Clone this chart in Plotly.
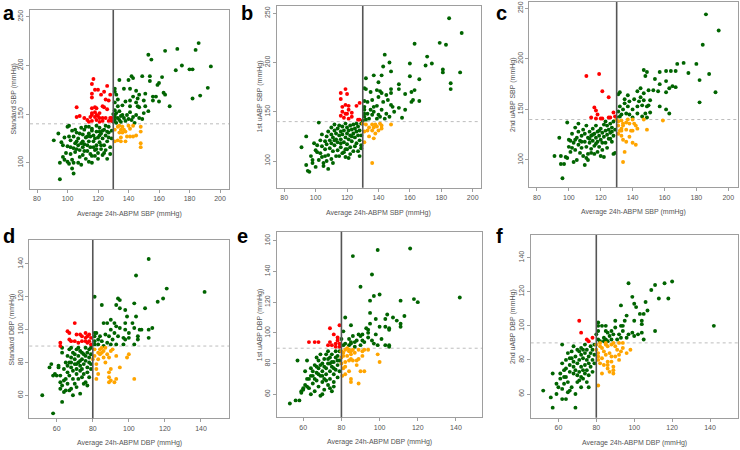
import plotly.graph_objects as go

# ---------------- DATA ----------------
# Panel a: Standard SBP vs average 24h-ABPM SBP
A_GREEN = [(186,223),(184,216),(172,217),(164,215),(153,211),(155,206),(175,200),(171,195),(180,196),(182,196),
 (194,199),(192,177),(182,166),(187,169),(162,188),(160,182),(159,180),(163,172),(164,170),(158,168),(156,168),
 (160,163),(167,158),(154,189),(154,184),(149,189),(143,187),(142,189),(140,185),(134,185),(131,176),(131,173),
 (132,170),(137,176),(141,176),(145,174),(147,170),(146,166),(151,171),(156,164),(145,162),(150,164),(143,168),
 (141,164),(138,163),(136,159),(133,158),(141,158),(146,158),(147,157),(151,158),(153,153),(150,151),(145,149),
 (147,146),(143,147),(141,152),(139,149),(136,149),(134,153),(131,154),(131,149),(133,146),(137,146),(140,145),
 (135,142),(131,144),(131,147),(149,145),(132,141),(134,144),(138,143),(142,144),(144,141),(132,151),(135,148),
 (130,142),(130,150),(131,162),(133,165),
 (91,123),(94,130),(96,121),(95,100),(95,83),(97,106),(98,103),(99,110),(100,117),(100,137),(101,138),(101,127),
 (102,123),(102,116),(102,109),(101,99),(103,103),(103,94),(104,89),(104,100),(105,111),(105,120),(104,127),
 (105,134),(106,131),(107,125),(107,118),(108,113),(108,106),(107,100),(109,98),(110,108),(110,116),(110,122),
 (110,129),(111,134),(112,137),(112,126),(113,118),(113,112),(112,104),(114,130),(114,122),(115,116),(115,109),
 (116,100),(116,135),(117,128),(117,122),(118,113),(118,107),(119,132),(119,118),(120,126),(120,110),(120,104),
 (121,136),(121,121),(122,130),(122,114),(123,108),(123,125),(124,134),(124,118),(125,128),(125,113),(126,104),
 (126,122),(127,137),(127,131),(128,116),(128,109),(129,125),(129,133),(108,130),(109,136),(106,114),(111,119),
 (113,127),(115,127),(116,133),(118,125),(119,138),(121,128),(123,133),(125,138),(126,132),(127,126),(114,137),
 (103,133),(104,115),(106,122),(109,120),(111,112),(117,116),(122,118),(124,110),(100,101),(97,118),(98,126),
 (116,107),(114,101),(119,114),(121,132)]
A_RED = [(117,186),(126,179),(116,181),(118,175),(120,175),(116,171),(124,173),(122,170),(128,170),(116,167),
 (125,165),(127,164),(106,157),(123,158),(118,157),(116,156),(119,156),(124,157),(126,155),(108,148),(106,147),
 (115,147),(116,149),(118,147),(120,148),(121,146),(123,146),(125,146),(128,146),(129,146),(113,144),(119,144),
 (118,152),(116,151),(121,151),(119,149),(114,142),(116,143),(123,143),(127,143),(129,143),(121,142),(111,146)]
A_ORANGE = [(131,134),(133,137),(134,138),(136,137),(135,134),(137,134),(136,131),(138,132),(140,138),(141,135),
 (135,126),(139,127),(141,127),(143,127),(145,128),(131,122),(133,123),(135,122),(138,122),(148,137),(148,132),
 (148,120),(148,116),(143,138),(134,131)]

# Panel b: 1st uABP SBP
B_GREEN = [(185,245),(193,230),(163,219),(179,220),(183,218),(144,208),(147,200),(148,191),(160,199),(171,206),
 (174,199),(170,197),(160,186),(166,183),(181,193),(181,190),(192,190),(186,179),(186,173),(143,196),(140,180),
 (142,187),(137,187),(132,184),(131,174),(132,173),(135,170),(139,172),(141,171),(142,169),(145,167),(148,173),
 (148,169),(153,178),(153,173),(157,168),(161,170),(163,172),(162,162),(166,161),(157,152),(155,144),(146,162),
 (143,160),(140,165),(136,162),(133,160),(131,161),(137,155),(139,156),(142,152),(145,148),(147,145),(149,155),
 (150,150),(144,143),(140,147),(137,150),(135,152),(133,148),(131,145),(131,152),(134,143),(136,147),(139,143),
 (141,145),(131,155),(148,157),(153,154),(161,160),(130,141),(132,142),(131,148),
 (91,114),(94,125),(94,96),(95,90),(96,89),(98,101),(98,98),(100,94),(102,139),(101,116),(101,109),(103,108),
 (104,115),(104,104),(105,95),(105,98),(106,120),(106,112),(107,125),(107,117),(108,106),(108,130),(109,121),
 (109,113),(110,127),(110,134),(110,118),(111,110),(111,124),(112,131),(112,137),(112,116),(113,122),(113,128),
 (113,105),(114,133),(114,119),(114,111),(115,126),(115,136),(116,122),(116,130),(116,114),(117,127),(117,135),
 (117,108),(118,119),(118,131),(119,124),(119,138),(119,112),(120,128),(120,134),(120,117),(121,122),(121,131),
 (121,103),(122,136),(122,126),(122,114),(123,120),(123,132),(124,128),(124,137),(124,110),(125,124),(125,133),
 (126,118),(126,130),(126,138),(127,126),(127,135),(128,121),(128,131),(129,138),(129,116),(129,113),(129,126),
 (103,121),(104,127),(106,105),(107,100),(108,92),(110,102),(111,98),(112,121),(115,105),(116,118),(118,109),
 (119,104),(120,112),(122,107),(123,125),(125,115),(127,110),(128,105),(100,111),(102,101),(97,105),(99,118)]
B_RED = [(119,173),(116,169),(120,168),(116,163),(119,157),(121,156),(128,159),(126,156),(117,150),(120,148),
 (123,149),(116,146),(118,144),(121,143),(123,145),(127,142),(128,142),(119,148),(121,152),(117,155)]
B_ORANGE = [(130,138),(131,130),(132,137),(134,134),(136,137),(137,134),(138,137),(139,135),(141,138),(142,133),
 (140,131),(136,131),(134,125),(137,123),(131,119),(136,98),(148,137),(133,131),(138,128),(142,136)]

# Panel c: 2nd uABP SBP
C_GREEN = [(186,244),(194,228),(184,214),(172,196),(168,195),(180,195),(175,186),(188,185),(182,179),(182,157),
 (192,167),(147,189),(149,187),(148,183),(157,187),(161,188),(164,188),(167,188),(154,180),(157,175),(161,178),
 (163,171),(165,173),(167,172),(161,167),(156,168),(150,169),(153,169),(145,171),(143,168),(147,166),(137,164),
 (132,167),(131,165),(135,160),(141,160),(145,162),(147,159),(151,159),(144,158),(132,153),(134,150),(137,153),
 (140,150),(143,153),(146,154),(149,153),(151,147),(148,146),(143,146),(138,145),(136,146),(133,145),(146,143),
 (149,142),(157,153),(161,150),(163,146),(135,156),(131,148),(150,154),(138,158),(130,142),(132,143),(140,142),
 (91,104),(94,122),(95,104),(95,96),(96,82),(97,96),(98,103),(99,102),(99,137),(100,113),(100,120),(101,108),
 (102,126),(103,117),(103,98),(104,110),(104,132),(105,122),(105,100),(106,115),(106,128),(107,107),(107,119),
 (108,124),(108,112),(109,130),(109,104),(110,118),(110,126),(111,113),(111,134),(112,122),(112,106),(113,128),
 (113,117),(114,124),(114,111),(115,131),(115,119),(116,126),(116,114),(117,122),(117,134),(118,118),(118,128),
 (119,113),(119,124),(120,131),(120,120),(121,127),(121,110),(122,123),(122,135),(123,117),(123,129),(124,125),
 (124,134),(125,121),(125,130),(126,127),(126,136),(127,118),(127,132),(128,124),(128,138),(129,130),(129,107),
 (128,106),(120,104),(122,103),(112,100),(110,95),(116,106),(118,108),(113,121),(108,118),(106,136),(104,120),
 (102,112),(101,119),(115,125),(119,129),(121,117),(124,112),(126,121),(117,116),(114,107),(123,138),(127,128),
 (111,102)]
C_RED = [(111,183),(119,185),(121,168),(125,162),(116,152),(117,149),(118,145),(114,142),(117,141),(121,141),
 (125,142),(126,142),(128,147),(129,143),(120,141)]
C_ORANGE = [(130,140),(131,138),(133,139),(134,136),(131,134),(133,131),(134,134),(136,137),(137,140),(138,136),
 (140,140),(141,136),(142,134),(143,131),(140,129),(136,130),(131,126),(133,124),(134,120),(136,118),(138,123),
 (140,117),(142,115),(135,108),(134,98),(147,140),(149,130),(159,139),(133,129),(132,129),(139,129)]

# Panel d: Standard DBP vs average 24h-ABPM DBP
D_GREEN = [(111,143),(104,133),(121,125),(142,123),(81,120),(85,115),(94,119),(95,118),(93,115),(103,116),
 (109,113),(116,117),(119,119),(95,113),(98,112),(99,108),(104,108),(90,106),(86,104),(88,104),(92,104),(98,104),
 (102,104),(103,101),(106,100),(107,100),(113,101),(111,100),(105,96),(105,94),(111,95),(103,91),(90,100),
 (93,102),(95,101),(98,100),(100,98),(92,98),(94,96),(97,95),(98,94),(100,95),(91,94),(89,96),(87,97),(84,96),
 (82,98),(81,98),(81,96),(83,94),(85,93),(88,92),(90,91),(93,91),(97,91),(81,93),(83,91),(86,90),(81,91),
 (52,60),(56,77),(57,79),(58,72),(58,49),(59,73),(61,77),(61,78),(62,64),(62,72),(63,86),(63,56),(63,66),
 (64,76),(64,62),(65,80),(65,70),(65,63),(66,84),(66,74),(66,67),(67,80),(67,88),(67,72),(68,64),(68,77),
 (68,83),(69,70),(69,86),(69,75),(70,79),(70,67),(70,82),(71,73),(71,88),(71,76),(72,80),(72,70),(72,84),
 (73,75),(73,61),(73,87),(73,78),(74,71),(74,82),(74,76),(75,85),(75,73),(75,79),(76,89),(76,68),(76,81),
 (77,74),(77,86),(77,77),(78,83),(78,71),(78,88),(79,79),(79,85),(79,76),(79,89),(75,67),(71,65),(69,60),
 (67,63),(64,69),(70,85),(72,89),(74,86),(76,84),(78,80),(73,81),(71,79),(68,80),(66,78),(62,68),(60,72),
 (77,66),(63,89),(68,89)]
D_RED = [(70,104),(66,99),(67,98),(62,92),(62,90),(67,94),(68,93),(71,97),(73,97),(74,96),(76,98),(77,96),
 (78,97),(79,95),(74,93),(76,93),(77,92),(70,93),(72,92),(79,91),(76,95),(78,93)]
D_ORANGE = [(81,88),(83,86),(84,88),(85,89),(87,89),(86,87),(84,85),(83,82),(86,83),(88,85),(90,87),(91,88),
 (89,83),(87,80),(82,79),(82,76),(83,73),(82,70),(89,71),(90,69),(89,68),(92,68),(93,70),(103,70),(99,83),
 (100,85),(93,84),(95,77),(90,76),(89,74),(81,84),(85,86),(80,82)]

# Panel e: 1st uABP DBP
E_GREEN = [(116,155),(99,154),(86,150),(96,138),(90,130),(100,125),(97,124),(95,121),(111,121),(118,122),
 (120,120),(142,123),(82,110),(85,105),(95,113),(98,109),(103,109),(104,112),(107,110),(109,108),(111,104),
 (111,106),(113,111),(100,104),(103,104),(105,103),(105,102),(95,106),(94,102),(94,100),(93,103),(91,99),
 (89,99),(90,98),(86,98),(84,96),(85,94),(87,94),(88,95),(91,95),(92,94),(96,95),(98,99),(101,96),(103,92),
 (105,92),(105,91),(81,101),(80,96),(82,93),(84,92),(85,93),(87,91),(90,92),(81,92),(97,93),(99,92),(94,97),
 (53,54),(56,56),(58,56),(57,82),(59,61),(59,62),(60,64),(61,75),(62,82),(62,65),(63,64),(63,70),(64,77),
 (64,60),(65,67),(65,72),(66,79),(66,62),(67,69),(67,74),(67,84),(68,77),(68,65),(68,82),(69,72),(69,59),
 (69,86),(70,80),(70,68),(70,75),(71,83),(71,63),(71,70),(72,77),(72,86),(72,73),(73,80),(73,66),(73,88),
 (74,75),(74,84),(74,70),(75,78),(75,62),(75,86),(76,81),(76,73),(76,68),(77,84),(77,76),(77,88),(78,79),
 (78,71),(78,85),(79,82),(79,75),(79,88),(66,70),(64,72),(62,70),(70,72),(72,69),(74,80),(76,77),(78,82),
 (71,78),(69,79),(67,78),(73,83),(75,81),(65,75),(68,73),(61,66),(60,63),(74,64),(70,60),(76,65)]
E_RED = [(63,94),(66,94),(68,94),(74,103),(76,99),(79,105),(78,97),(78,95),(74,94),(75,92),(77,93),(79,93),
 (79,91),(77,91),(73,92)]
E_ORANGE = [(80,88),(82,89),(83,90),(84,88),(84,89),(85,88),(86,89),(87,87),(89,89),(91,88),(92,89),(94,89),
 (81,85),(83,85),(85,83),(86,82),(88,82),(89,83),(84,82),(85,86),(82,81),(80,80),(81,77),(80.5,72),(82,73),
 (85,70),(85,68),(89,67),(90,75),(92,75),(99,86),(100,81),(91,85),(88,79),(84,75),(82,78),(80,84),(81,87)]

# Panel f: 2nd uABP DBP
F_GREEN = [(97,125),(111,124),(120,126),(116,125),(109,121),(113,116),(118,116),(99,117),(100,113),(101,111),
 (106,114),(107,109),(103,107),(105,107),(93,112),(96,106),(104,103),(104,101),(100,103),(95,103),(90,103),
 (85,100),(81,102),(81,100),(83,100),(81,97),(80,95),(85,97),(86,96),(88,97),(90,99),(93,100),(94,100),(94,97),
 (92,95),(89,95),(87,94),(85,92),(84,91),(86,91),(88,92),(91,92),(93,93),(96,93),(97,95),(99,96),(100,94),
 (102,95),(104,96),(105,92),(111,97),(142,100),(81,92),(82,91),(84,93),
 (52,62),(56,58),(57,72),(57,52),(59,66),(59,60),(60,64),(61,69),(62,89),(62,57),(62,63),(63,74),(63,66),
 (64,57),(64,80),(64,70),(65,84),(65,67),(65,61),(66,77),(66,73),(67,85),(67,81),(67,64),(68,72),(68,76),
 (68,88),(69,52),(69,60),(69,74),(69,82),(70,78),(70,71),(70,67),(71,85),(71,80),(71,73),(72,70),(72,76),
 (72,64),(72,87),(73,81),(73,74),(73,69),(74,84),(74,77),(74,72),(74,89),(75,80),(75,67),(75,86),(75,74),
 (76,82),(76,78),(76,71),(77,88),(77,84),(77,76),(78,80),(78,86),(78,73),(79,83),(79,78),(79,89),(66,62),
 (64,75),(70,86),(72,83),(68,79),(66,81),(63,70),(61,72),(71,68),(76,64),(73,86),(62,78)]
F_RED = [(71,103),(72,96),(75,92),(76,91),(78,93)]
F_ORANGE = [(80,89),(82,90),(83,87),(85,89),(85,90),(86,88),(88,89),(89,90),(90,88),(92,90),(94,90),(94,87),
 (93,85),(98,86),(84,85),(85,83),(87,84),(88,82),(90,82),(92,80),(88,79),(86,79),(83,81),(81,82),(81,80),
 (82,78),(84,77),(86,77),(89,76),(89,74),(89,72),(87,73),(86,75),(81,65),(83,72),(91,86),(92,83),(96,84),
 (80,86),(81,84),(82,88)]

PANELS = [
    dict(tag="a", green=A_GREEN, red=A_RED, orange=A_ORANGE, vx=130, hy=140,
         xt=[80, 100, 120, 140, 160, 180, 200], yt=[100, 150, 200, 250],
         xr=[75.4, 205.9], yr=[73, 257],
         xlab="Average 24h-ABPM SBP (mmHg)", ylab="Standard SBP (mmHg)"),
    dict(tag="b", green=B_GREEN, red=B_RED, orange=B_ORANGE, vx=130, hy=140,
         xt=[80, 100, 120, 140, 160, 180, 200], yt=[100, 150, 200, 250],
         xr=[75.2, 205.1], yr=[72.9, 257.4],
         xlab="Average 24h-ABPM SBP (mmHg)", ylab="1st uABP SBP (mmHg)"),
    dict(tag="c", green=C_GREEN, red=C_RED, orange=C_ORANGE, vx=130, hy=140,
         xt=[80, 100, 120, 140, 160, 180, 200], yt=[100, 150, 200, 250],
         xr=[75.2, 206.3], yr=[73, 256.2],
         xlab="Average 24h-ABPM SBP (mmHg)", ylab="2nd uABP SBP (mmHg)"),
    dict(tag="d", green=D_GREEN, red=D_RED, orange=D_ORANGE, vx=80, hy=90,
         xt=[60, 80, 100, 120, 140], yt=[60, 80, 100, 120, 140],
         xr=[44.8, 155.7], yr=[46, 154.6],
         xlab="Average 24h-ABPM DBP (mmHg)", ylab="Standard DBP (mmHg)"),
    dict(tag="e", green=E_GREEN, red=E_RED, orange=E_ORANGE, vx=80, hy=90,
         xt=[60, 80, 100, 120, 140], yt=[60, 80, 100, 120, 140, 160],
         xr=[46.1, 153.8], yr=[45, 165.9],
         xlab="Average 24h-ABPM DBP (mmHg)", ylab="1st uABP DBP (mmHg)"),
    dict(tag="f", green=F_GREEN, red=F_RED, orange=F_ORANGE, vx=80, hy=90,
         xt=[60, 80, 100, 120, 140], yt=[60, 80, 100, 120, 140],
         xr=[45.4, 154.9], yr=[46.1, 153.3],
         xlab="Average 24h-ABPM DBP (mmHg)", ylab="2nd uABP DBP (mmHg)"),
]

# ---------------- LAYOUT (pixel boxes of the six plot areas) ----------------
W, H = 740, 450
BOXES = [(30, 229, 10, 189), (276.7, 480.7, 6, 187.7), (529.3, 738.3, 2, 187.3),
         (29.3, 229.3, 240, 418.3), (276.7, 482.3, 231.7, 417.3), (530.7, 738.3, 235, 417.7)]
TAG_POS = [(1, 0), (239, 0), (494, 0), (1, 223), (235, 223), (494, 223)]

FONT = "Liberation Sans, Arial, Helvetica, sans-serif"
TXT = "#555555"
BOXC = "#9e9e9e"
COLORS = {"green": "#006400", "red": "#ff0000", "orange": "#ffa500"}

fig = go.Figure()
layout = dict(width=W, height=H, margin=dict(l=0, r=0, t=0, b=0),
              paper_bgcolor="white", plot_bgcolor="white", showlegend=False,
              hovermode=False, shapes=[], annotations=[])

for i, (p, box) in enumerate(zip(PANELS, BOXES)):
    n = "" if i == 0 else str(i + 1)
    xa, ya = "x" + n, "y" + n
    l, r, t, b = box
    for key in ("green", "red", "orange"):
        pts = p[key]
        fig.add_trace(go.Scatter(
            x=[q[0] for q in pts], y=[q[1] for q in pts], mode="markers",
            marker=dict(color=COLORS[key], size=3.9, line=dict(width=0)),
            xaxis=xa, yaxis=ya))
    common = dict(showgrid=False, zeroline=False, showline=True, mirror=True,
                  linecolor=BOXC, linewidth=1, ticks="outside", ticklen=3,
                  tickcolor=BOXC, tickwidth=1,
                  tickfont=dict(family=FONT, size=7, color=TXT))
    layout["xaxis" + n] = dict(common, domain=[l / W, r / W], range=p["xr"],
                               tickvals=p["xt"], anchor=ya)
    layout["yaxis" + n] = dict(common, domain=[1 - b / H, 1 - t / H], range=p["yr"],
                               tickvals=p["yt"], tickangle=-90, anchor=xa)
    # reference lines
    layout["shapes"].append(dict(type="line", xref=xa, yref=ya + " domain",
                                 x0=p["vx"], x1=p["vx"], y0=0, y1=1,
                                 line=dict(color="#555555", width=1.6)))
    layout["shapes"].append(dict(type="line", xref=xa + " domain", yref=ya,
                                 x0=0, x1=1, y0=p["hy"], y1=p["hy"], layer="below",
                                 line=dict(color="#bdbdbd", width=1, dash="dot")))
    # axis titles
    layout["annotations"].append(dict(
        text=p["xlab"], xref="paper", yref="paper", x=(l + r) / 2 / W,
        y=1 - (b + 25) / H, xanchor="center", yanchor="middle", showarrow=False,
        font=dict(family=FONT, size=7, color=TXT)))
    layout["annotations"].append(dict(
        text=p["ylab"], xref="paper", yref="paper", x=(l - 17) / W,
        y=1 - (t + b) / 2 / H, xanchor="center", yanchor="middle", showarrow=False,
        textangle=-90, font=dict(family=FONT, size=7, color=TXT)))
    tx, ty = TAG_POS[i]
    layout["annotations"].append(dict(
        text="<b>%s</b>" % p["tag"], xref="paper", yref="paper", x=tx / W, y=1 - ty / H,
        xanchor="left", yanchor="top", showarrow=False,
        font=dict(family=FONT, size=20, color="black")))

fig.update_layout(**layout)
fig.write_html("out.html", config={"displayModeBar": False, "staticPlot": True},
               post_script="document.body.style.margin='0';document.body.style.padding='0';"
                           "document.body.style.overflow='hidden';")
